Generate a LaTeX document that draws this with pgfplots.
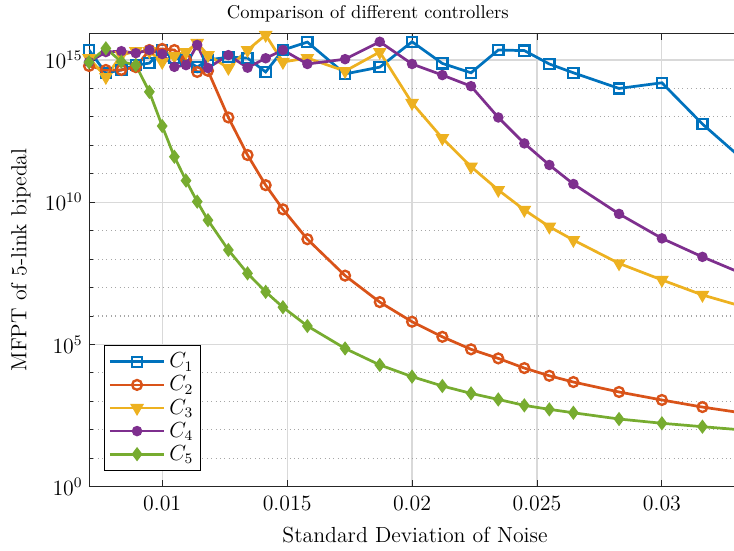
\documentclass[border=0pt]{standalone}
\usepackage{pgfplots}
\pgfplotsset{compat=1.18}
\usepackage{pgfplotstable}
\definecolor{cA}{rgb}{0,0.447,0.741}
\definecolor{cB}{rgb}{0.85,0.325,0.098}
\definecolor{cC}{rgb}{0.929,0.694,0.125}
\definecolor{cD}{rgb}{0.494,0.184,0.556}
\definecolor{cE}{rgb}{0.466,0.674,0.188}
\pgfplotstableread{
x c1 c2 c3 c4 c5
0.0070711 2.24e15 6.17e14 1.17e15 8.51e14 8.32e14
0.0077460 3.47e14 4.47e14 2.51e14 1.91e15 2.57e15
0.0083666 4.47e14 4.47e14 1.48e15 2.04e15 8.71e14
0.0089443 6.61e14 5.62e14 2.04e15 1.74e15 6.61e14
0.0094868 7.76e14 2.24e15 2.04e15 2.24e15 7.59e13
0.0100000 2.24e15 2.45e15 8.51e14 1.62e15 4.79e12
0.0104881 1.17e15 2.24e15 1.38e15 5.75e14 3.98e11
0.0109545 1.00e15 1.00e15 1.91e15 6.61e14 5.75e10
0.0114018 5.62e14 3.80e14 3.98e15 3.39e15 1.05e10
0.0118322 1.00e15 4.17e14 1.48e15 5.25e14 2.34e9
0.0126491 1.26e15 9.55e12 5.25e14 1.48e15 2.09e8
0.0134164 1.17e15 4.57e11 2.24e15 5.37e14 3.16e7
0.0141421 3.80e14 3.98e10 7.59e15 1.15e15 7.08e6
0.0148324 2.24e15 5.62e9 8.51e14 2.24e15 2.04e6
0.0158114 4.27e15 5.01e8 1.17e15 7.24e14 4.47e5
0.0173205 3.24e14 2.63e7 4.07e14 1.07e15 7.24e4
0.0187083 5.62e14 3.09e6 1.91e15 4.37e15 1.91e4
0.0200000 4.37e15 6.31e5 3.09e13 7.24e14 7.41e3
0.0212132 7.59e14 1.86e5 1.78e12 2.95e14 3.47e3
0.0223607 3.55e14 6.76e4 1.78e11 1.20e14 1.91e3
0.0234521 2.24e15 3.24e4 2.69e10 9.55e12 1.17e3
0.0244949 2.14e15 1.48e4 5.37e9 1.17e12 724
0.0254951 7.24e14 7.94e3 1.38e9 2.04e11 525
0.0264575 3.55e14 4.79e3 4.68e8 4.37e10 398
0.0282843 1.00e14 2.14e3 7.08e7 3.89e9 240
0.0300000 1.58e14 1.12e3 1.86e7 5.37e8 170
0.0316228 5.62e12 631 5.50e6 1.20e8 129
0.0331662 3.63e11 398 2.24e6 3.24e7 100
}\datatable
\begin{document}
\begin{tikzpicture}
\begin{axis}[
  width=358.6pt, height=249.4pt, scale only axis,
  ymode=log, log basis y=10,
  xmin=0.0070711, xmax=0.0331662, ymin=1, ymax=8.7e15,
  xtick={0.01,0.015,0.02,0.025,0.03},
  xticklabels={0.01,0.015,0.02,0.025,0.03},
  scaled x ticks=false,
  ytick={1,1e5,1e10,1e15},
  minor ytick={1e1,1e2,1e3,1e4,1e6,1e7,1e8,1e9,1e11,1e12,1e13,1e14},
  grid=both,
  major grid style={black!15, line width=0.6pt},
  minor grid style={black!35, dotted, line width=0.6pt},
  axis line style={black!85, line width=0.5pt},
  tick style={black!85, line width=0.5pt},
  major tick length=3.5pt, minor tick length=2pt,
  tick label style={font=\fontsize{12}{14}\selectfont},
  xticklabel style={yshift=-1.5pt},
  label style={font=\fontsize{12}{14}\selectfont},
  title={Comparison of different controllers},
  title style={font=\fontsize{10.2}{12}\selectfont, yshift=-3.5pt, xshift=-26pt},
  xlabel={Standard Deviation of Noise},
  ylabel={MFPT of 5-link bipedal},
  xlabel style={yshift=-2.3pt},
  ylabel style={yshift=1pt},
  legend style={at={(0.0235,0.0353)}, anchor=south west, draw=black, line width=0.5pt,
    fill=white, font=\fontsize{12}{14}\selectfont, row sep=-1pt, inner sep=2pt},
  legend cell align=left,
  legend image code/.code={\draw[mark repeat=2,mark phase=2,#1] plot coordinates {(0pt,0pt) (15pt,0pt) (30pt,0pt)};},
  every axis plot/.append style={line width=1.5pt},
]
\coordinate (BL) at (rel axis cs:0,0);
\coordinate (TR) at (rel axis cs:1,1);
\addplot[color=cA, mark=square, mark size=2.8pt, mark options={solid, line width=1.3pt}] table[x=x, y=c1] {\datatable};
\addlegendentry{$C_1$}
\addplot[color=cB, mark=o, mark size=2.7pt, mark options={solid, line width=1.3pt}] table[x=x, y=c2] {\datatable};
\addlegendentry{$C_2$}
\addplot[color=cC, mark=triangle*, mark size=3.6pt, mark options={solid, fill=cC, rotate=180, line width=0.8pt}] table[x=x, y=c3] {\datatable};
\addlegendentry{$C_3$}
\addplot[color=cD, mark=*, mark size=2.1pt, mark options={solid, fill=cD}] table[x=x, y=c4] {\datatable};
\addlegendentry{$C_4$}
\addplot[color=cE, mark=diamond*, mark size=3.3pt, mark options={solid, fill=cE, line width=0.8pt}] table[x=x, y=c5] {\datatable};
\addlegendentry{$C_5$}
\end{axis}
\pgfresetboundingbox
\path[use as bounding box] ([xshift=-48.95pt,yshift=-34.8pt]BL) rectangle ([xshift=-3.85pt,yshift=18.3pt]TR);
\end{tikzpicture}
\end{document}
